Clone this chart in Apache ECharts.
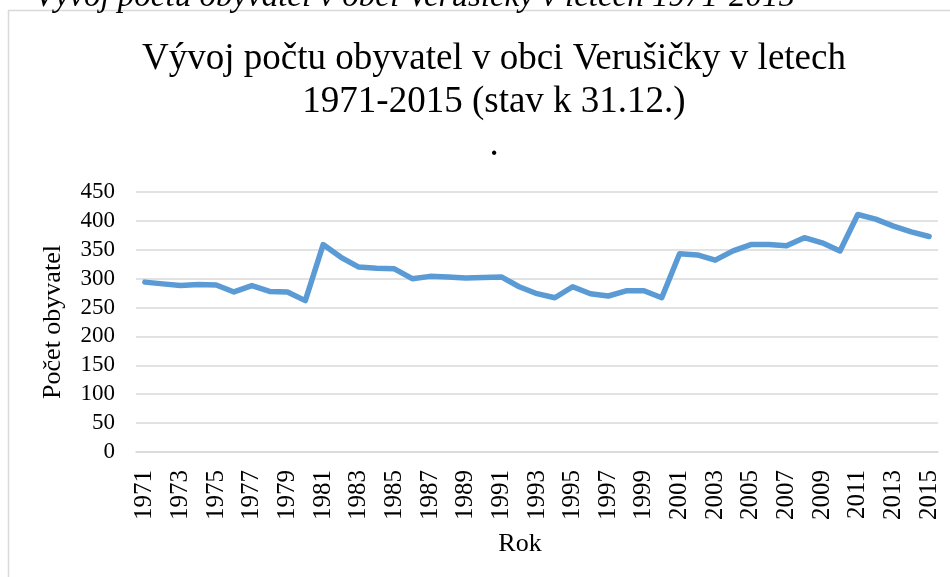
<!DOCTYPE html>
<html>
<head>
<meta charset="utf-8">
<script src="https://cdn.jsdelivr.net/npm/echarts@6/dist/echarts.min.js"></script>
<style>
  html, body { margin: 0; padding: 0; background: #fff; }
  #main { width: 950px; height: 577px; }
</style>
</head>
<body>
<div id="main"></div>
<script>
var years = [];
for (var y = 1971; y <= 2015; y++) years.push(String(y));

// počet obyvatel k 31.12.
var obyvatel = [
  294, 291, 288, 290, 289, 277, 288, 278, 277, 262,
  359, 337, 320, 318, 317, 300, 304, 303, 301, 302,
  303, 286, 274, 267, 286, 274, 270, 279, 279, 267,
  343, 341, 332, 348, 359, 359, 357, 371, 362, 348,
  411, 403, 391, 381, 373
];

var yTicks = { min: 0, max: 450, step: 50 };

var titleText = 'Vývoj počtu obyvatel v obci Verušičky v letech\n1971-2015 (stav k 31.12.)\n.';
var captionText = 'Graf 1 – Vývoj počtu obyvatel v obci Verušičky v letech 1971-2015';

var font = '"Liberation Serif", "Times New Roman", serif';

var chart = echarts.init(document.getElementById('main'));

chart.setOption({
  backgroundColor: '#fff',
  animation: false,
  title: {
    text: titleText,
    left: 489,
    top: 33,
    textAlign: 'center',
    textStyle: {
      fontFamily: font,
      fontSize: 37,
      fontWeight: 'normal',
      color: '#000',
      lineHeight: 43
    }
  },
  graphic: [
    {
      type: 'rect',
      shape: { x: 8.5, y: 10.5, width: 1000, height: 1000 },
      style: { fill: 'none', stroke: '#d9d9d9', lineWidth: 1.5 },
      silent: true
    },
    {
      type: 'text',
      style: {
        text: captionText,
        x: 795,
        y: 14,
        align: 'right',
        verticalAlign: 'bottom',
        font: 'italic 33px ' + font,
        fill: '#000'
      },
      silent: true
    },
    {
      type: 'text',
      style: {
        text: 'Rok',
        x: 520,
        y: 544,
        align: 'center',
        verticalAlign: 'middle',
        font: '26px ' + font,
        fill: '#000'
      },
      silent: true
    },
    {
      type: 'text',
      rotation: Math.PI / 2,
      x: 53,
      y: 322,
      style: {
        text: 'Počet obyvatel',
        x: 0,
        y: 0,
        align: 'center',
        verticalAlign: 'middle',
        font: '26px ' + font,
        fill: '#000'
      },
      silent: true
    }
  ],
  grid: {
    left: 136,
    right: 12,
    top: 192,
    bottom: 125,
    containLabel: false
  },
  xAxis: {
    type: 'category',
    data: years,
    boundaryGap: true,
    axisLine: { show: true, lineStyle: { color: '#d9d9d9', width: 1.5 } },
    axisTick: { show: false },
    axisLabel: {
      interval: 1,
      rotate: 90,
      margin: 18,
      fontFamily: font,
      fontSize: 25,
      color: '#000'
    }
  },
  yAxis: {
    type: 'value',
    min: yTicks.min,
    max: yTicks.max,
    interval: yTicks.step,
    axisLine: { show: false },
    axisTick: { show: false },
    splitLine: { lineStyle: { color: '#d9d9d9', width: 1.5 } },
    axisLabel: {
      margin: 21,
      fontFamily: font,
      fontSize: 23,
      color: '#000'
    }
  },
  series: [{
    type: 'line',
    data: obyvatel,
    symbol: 'none',
    smooth: false,
    lineStyle: { color: '#5b9bd5', width: 5.5, join: 'round', cap: 'round' }
  }]
});

window.addEventListener('resize', function () {
  chart.resize();
});
</script>
</body>
</html>
